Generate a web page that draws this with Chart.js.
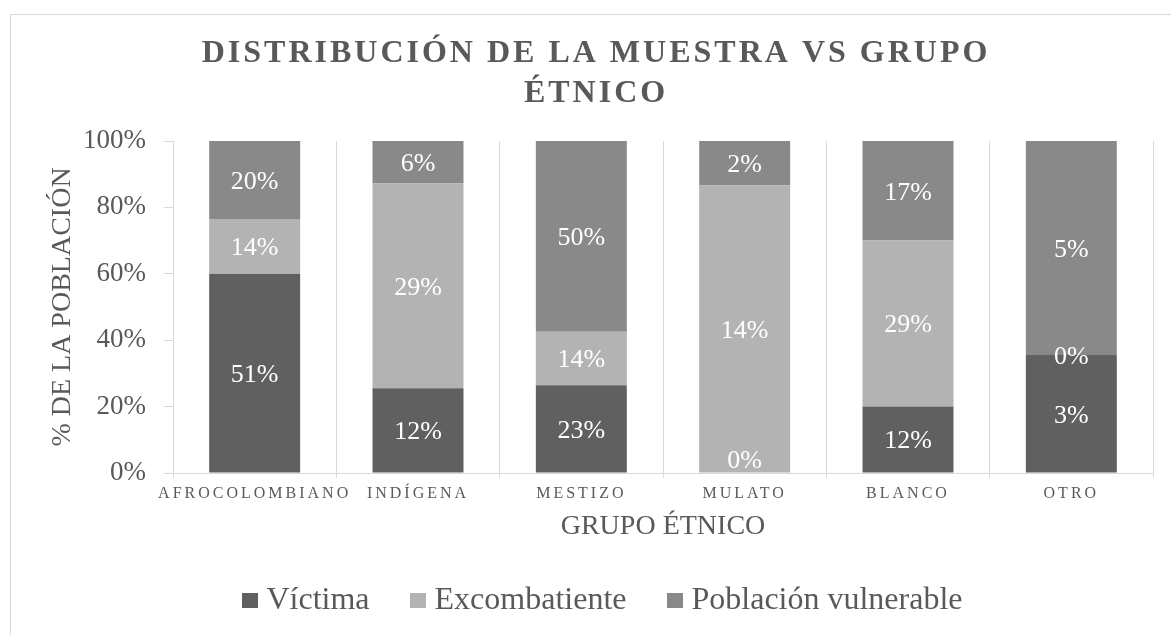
<!DOCTYPE html>
<html>
<head>
<meta charset="utf-8">
<script src="https://cdn.jsdelivr.net/npm/chart.js@4"></script>
<style>
  html, body { margin: 0; padding: 0; background: #fff; overflow: hidden; width: 1171px; height: 635px; }
  #frame { position: absolute; left: 10px; top: 14px; width: 1190px; height: 640px; border: 1px solid #d9d9d9; }
  canvas { display: block; }
</style>
</head>
<body>
<div id="frame"><canvas id="canvas" width="1190" height="640"></canvas></div>
<script>
// grupos étnicos y % de cada población (el gráfico es 100% apilado)
let labels = ['AFROCOLOMBIANO', 'INDÍGENA', 'MESTIZO', 'MULATO', 'BLANCO', 'OTRO'];
let victima = [51, 12, 23, 0, 11.6, 2.7];
let excombatiente = [14, 29, 14, 14.3, 29, 0];
let vulnerable = [20, 6, 50, 2.2, 17.4, 4.9];
let yTicks = [0, 20, 40, 60, 80, 100];
let title = ['DISTRIBUCIÓN DE LA MUESTRA VS GRUPO', 'ÉTNICO'];

let colors = ['#606060', '#b3b3b3', '#898989'];
let grey = '#595959';
let serif = "'Liberation Serif', 'Times New Roman', serif";

// normalizar cada grupo a 100%
let totals = labels.map((l, i) => victima[i] + excombatiente[i] + vulnerable[i]);
let pct = arr => arr.map((v, i) => v / totals[i] * 100);

// little square for the legend (keeps the gap to the text short)
function swatch(color) {
  let c = document.createElement('canvas');
  c.width = 16; c.height = 15;
  let g = c.getContext('2d');
  g.fillStyle = color;
  g.fillRect(0, 0, 16, 15);
  return c;
}

// letter spacing for the title and the category labels
let spacing = {
  id: 'spacing',
  afterLayout(chart) {
    let wrap = (obj, name, dx) => {
      if (!obj || obj['_sp_' + name]) return;
      let orig = obj[name];
      obj[name] = function() {
        let ctx = this.ctx;
        ctx.save();
        ctx.letterSpacing = '3px';
        ctx.translate(dx, 0);
        orig.apply(this, arguments);
        ctx.restore();
      };
      obj['_sp_' + name] = true;
    };
    wrap(chart.titleBlock, 'draw', -10);
    wrap(chart.scales.x, 'drawLabels', 0);
  }
};

// data labels: the raw % inside each segment
let segLabels = {
  id: 'segLabels',
  afterDatasetsDraw(chart) {
    let ctx = chart.ctx;
    ctx.save();
    ctx.font = '26px ' + serif;
    ctx.fillStyle = '#ffffff';
    ctx.textAlign = 'center';
    ctx.textBaseline = 'middle';
    chart.data.datasets.forEach((ds, di) => {
      let meta = chart.getDatasetMeta(di);
      meta.data.forEach((bar, i) => {
        let y = (bar.y + bar.base) / 2 + 2;
        y = Math.min(y, chart.chartArea.bottom - 12);
        ctx.fillText(Math.round(ds.raw[i]) + '%', bar.x, y);
      });
    });
    ctx.restore();
  }
};

let options = {
  type: 'bar',
  data: {
    labels: labels,
    datasets: [
      { label: 'Víctima', raw: victima, data: pct(victima), backgroundColor: colors[0] },
      { label: 'Excombatiente', raw: excombatiente, data: pct(excombatiente), backgroundColor: colors[1] },
      { label: 'Población vulnerable', raw: vulnerable, data: pct(vulnerable), backgroundColor: colors[2] }
    ]
  },
  options: {
    responsive: false,
    animation: false,
    devicePixelRatio: 1,
    layout: { padding: { left: 0, right: 0, top: 0, bottom: 28.5 } },
    datasets: {
      bar: { categoryPercentage: 1.0, barPercentage: 0.557, borderWidth: 0 }
    },
    scales: {
      x: {
        stacked: true,
        grid: { color: '#d9d9d9', tickLength: 5, offset: true },
        border: { color: '#d9d9d9' },
        ticks: { color: grey, font: { family: serif, size: 16 }, padding: 6, maxRotation: 0, minRotation: 0, autoSkip: false },
        title: { display: true, text: 'GRUPO ÉTNICO', color: grey, font: { family: serif, size: 28, lineHeight: 0.4 }, padding: { top: 0, bottom: 4.4 } },
        afterFit(s) { s.height = 63.5; }
      },
      y: {
        stacked: true,
        min: 0,
        max: 100,
        afterBuildTicks(s) { s.ticks = yTicks.map(v => ({ value: v })); },
        grid: { drawOnChartArea: false, color: '#d9d9d9', tickLength: 9 },
        border: { color: '#d9d9d9' },
        ticks: { color: grey, font: { family: serif, size: 27 }, padding: 18, callback: v => v + '%' },
        title: { display: true, text: '% DE LA POBLACIÓN', color: grey, font: { family: serif, size: 28 }, padding: { top: 35, bottom: 0 } },
        afterFit(s) { s.width = 162; }
      },
      // empty strip on the right so the chart area ends where the reference does
      pad: {
        position: 'right',
        display: true,
        grid: { display: false },
        border: { display: false },
        ticks: { display: false },
        afterFit(s) { s.width = 48; }
      }
    },
    plugins: {
      title: {
        display: true,
        text: title,
        color: grey,
        font: { family: serif, size: 32, weight: 'bold', lineHeight: 1.25 },
        padding: { top: 18.5, bottom: 27.5 }
      },
      legend: {
        position: 'bottom',
        labels: {
          color: grey,
          font: { family: serif, size: 32 },
          usePointStyle: true,
          pointStyleWidth: 1,
          boxHeight: 15,
          padding: 48,
          generateLabels(chart) {
            return Chart.defaults.plugins.legend.labels.generateLabels(chart).map((item, i) => {
              item.pointStyle = swatch(colors[i]);
              return item;
            });
          }
        }
      },
      tooltip: { enabled: false }
    }
  },
  plugins: [spacing, segLabels]
};

let chart = new Chart(document.getElementById('canvas'), options);
</script>
</body>
</html>
